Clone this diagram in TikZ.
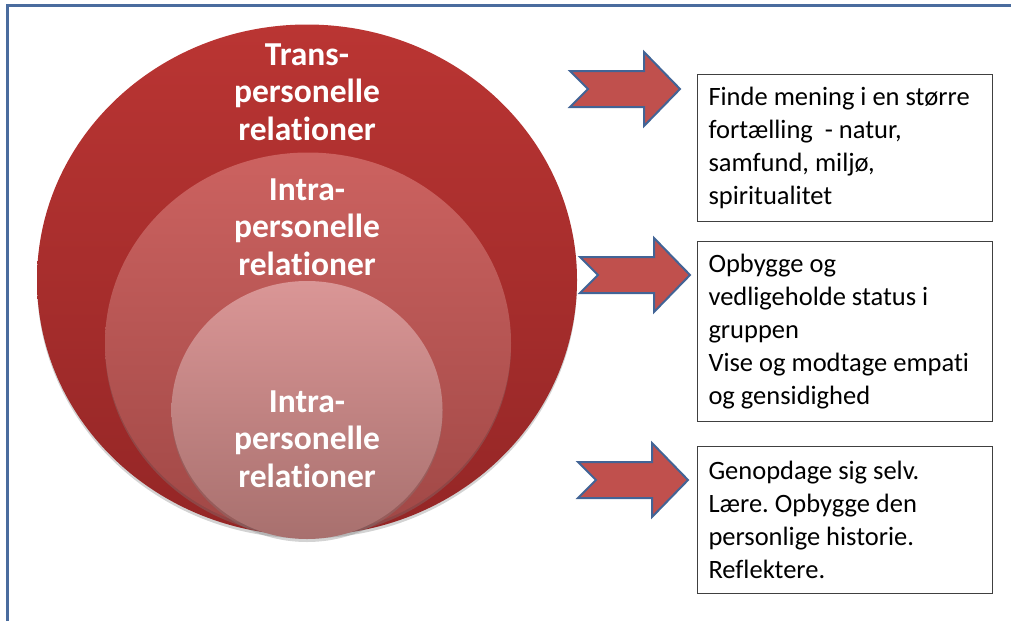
\documentclass[tikz,border=0pt]{standalone}
\usepackage{fontspec}
\setmainfont{Carlito}[Ligatures={NoCommon,NoRequired,NoContextual}]
\usetikzlibrary{positioning,shapes.geometric,shadows}
\frenchspacing

\definecolor{framecol}{RGB}{74,108,158}
\definecolor{arrfill}{RGB}{192,80,77}
\definecolor{arrline}{RGB}{66,100,150}

\tikzset{
  ring/.style={ellipse, inner sep=0pt, drop shadow={opacity=0.35, shadow xshift=0pt, shadow yshift=-3pt}},
  circtext/.style={text=white, align=center, font=\fontsize{33.5}{37.5}\selectfont\bfseries},
  infobox/.style={rectangle, draw=black!75, line width=1pt, anchor=north west, minimum width=295pt, text width=273pt, inner xsep=11pt, align=flush left, font=\fontsize{26.5}{33}\selectfont},
  blockarr/.style={fill=arrfill, draw=arrline, line width=2pt, line join=miter}
}

\begin{document}
\begin{tikzpicture}[x=1pt,y=-1pt]
\useasboundingbox (0,0) rectangle (1011,621);
\draw [framecol, line width=3pt] (7,621) -- (7,5) -- (1011,5);

% circles
\node (ellT) [ring, top color={rgb,255:red,186;green,53;blue,51}, bottom color={rgb,255:red,148;green,38;blue,38}, minimum width=540pt, minimum height=511pt] at (307,280) {};
\node (ellA) [ring, top color={rgb,255:red,204;green,98;blue,96}, bottom color={rgb,255:red,160;green,72;blue,70}, minimum width=406pt, minimum height=381pt] at (308,343) {};
\node (ellB) [ring, top color={rgb,255:red,218;green,150;blue,150}, bottom color={rgb,255:red,168;green,112;blue,110}, minimum width=271pt, minimum height=258pt] at (307,410) {};

\node (txtT) [circtext] at (307,92) {Trans-\\personelle\\relationer};
\node (txtA) [circtext] at (307,227) {Intra-\\personelle\\relationer};
\node (txtB) [circtext] at (307,439) {Intra-\\personelle\\relationer};

% arrows
\coordinate (arrA) at (570,89);
\coordinate (arrB) at (580,275);
\coordinate (arrC) at (578,480);
\draw [blockarr] (arrA) ++(0,-18) -- ++(74,0) -- ++(0,-19) -- ++(36,37) -- ++(-36,37) -- ++(0,-19) -- ++(-74,0) -- ++(18,-18) -- cycle;
\draw [blockarr] (arrB) ++(0,-18) -- ++(74,0) -- ++(0,-19) -- ++(36,37) -- ++(-36,37) -- ++(0,-19) -- ++(-74,0) -- ++(18,-18) -- cycle;
\draw [blockarr] (arrC) ++(0,-18) -- ++(74,0) -- ++(0,-19) -- ++(36,37) -- ++(-36,37) -- ++(0,-19) -- ++(-74,0) -- ++(18,-18) -- cycle;

% boxes
\node (boxA) [infobox, minimum height=147pt] at (697,74) {Finde mening i en større\\fortælling~ - natur,\\samfund, miljø,\\spiritualitet};
\node (boxB) [infobox, minimum height=180pt] at (697,241) {Opbygge og\\vedligeholde status i\\gruppen\\Vise og modtage empati\\og gensidighed};
\node (boxC) [infobox, minimum height=147pt] at (697,446) {Genopdage sig selv.\\Lære. Opbygge den\\personlige historie.\\Reflektere.};
\end{tikzpicture}
\end{document}
